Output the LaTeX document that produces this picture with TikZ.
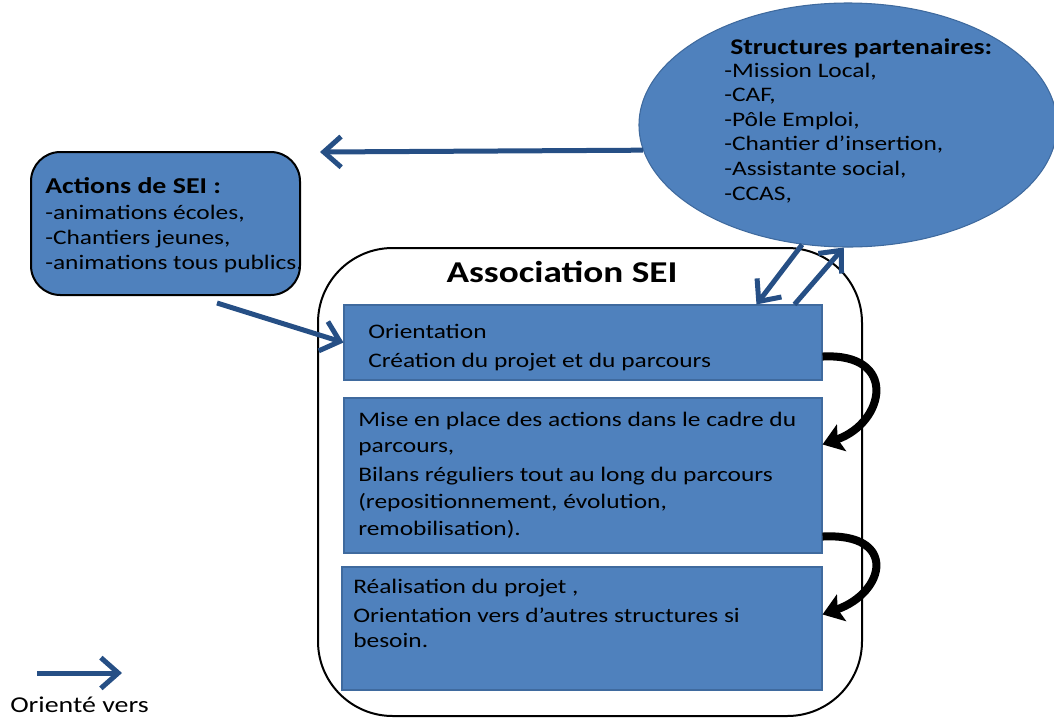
\documentclass[tikz,border=0pt]{standalone}
\usepackage{fontspec}
\setmainfont{Carlito}[FakeStretch=1.23]
\usetikzlibrary{arrows.meta,shapes.geometric,calc}
\definecolor{boxblue}{HTML}{4F81BD}
\definecolor{boxedge}{HTML}{3F6A9E}
\definecolor{arrblue}{HTML}{264F85}
\tikzset{
  bluebox/.style={rectangle,fill=boxblue,draw=boxedge,line width=0.8pt,inner sep=0pt},
  txt/.style={anchor=base west,inner sep=0pt,align=left,text=black},
  bodyfont/.style={font=\fontsize{15.5}{#1}\selectfont},
  blarrow/.style={draw=arrblue,line width=3.75pt,-{Straight Barb[length=13pt,width=23pt]}},
  flowarrow/.style={draw=black,line width=6pt,-{Stealth[length=15pt,width=21pt,inset=3pt]}}
}
\begin{document}
\begin{tikzpicture}[x=0.75pt,y=-0.75pt]
\useasboundingbox (0,0) rectangle (1054,718);

% partner ellipse
\node[ellipse,fill=boxblue,draw=boxedge,line width=0.8pt,inner sep=0pt,
      minimum width=313.5pt,minimum height=183pt] (ell) at (848,125) {};
\node[txt,font=\fontsize{16.8}{18}\selectfont\bfseries] (ellh) at (730,54) {Structures partenaires:};
\node[txt,bodyfont=18.4pt] (ellt) at (724,200) {-Mission Local,\\-CAF,\\-Pôle Emploi,\\-Chantier d’insertion,\\-Assistante social,\\-CCAS,};

% actions box
\node[rectangle,rounded corners=22pt,fill=boxblue,draw=black,line width=1.5pt,inner sep=0pt,
      minimum width=201.75pt,minimum height=107.25pt] (act) at (165.5,223.5) {};
\node[txt,font=\fontsize{17}{18}\selectfont\bfseries] (acth) at (45,193) {Actions de SEI :};
\node[txt,bodyfont=18.75pt] (actt) at (45,269) {-animations écoles,\\-Chantiers jeunes,\\-animations tous publics.};

% association frame
\node[rectangle,rounded corners=56pt,draw=black,line width=1.5pt,inner sep=0pt,
      minimum width=408pt,minimum height=351pt] (assoc) at (590,482) {};
\node[anchor=base,inner sep=0pt,font=\fontsize{22.7}{24}\selectfont\bfseries] (asst) at (562,282) {Association SEI};

% step boxes
\node[bluebox,minimum width=358.5pt,minimum height=56.25pt] (b1) at (583,342.5) {};
\node[bluebox,minimum width=358.5pt,minimum height=116.25pt] (b2) at (583,475.5) {};
\node[bluebox,minimum width=360pt,minimum height=92.25pt] (b3) at (582,628.5) {};

\node[txt,bodyfont=21.75pt] (b1t) at (368,367) {Orientation\\Création du projet et du parcours};
\node[txt,bodyfont=19.9pt] (b2t) at (358,535) {Mise en place des actions dans le cadre du\\parcours,\\[1.9pt]Bilans réguliers tout au long du parcours\\(repositionnement, évolution,\\remobilisation).};
\node[txt,bodyfont=18.75pt] (b3t) at (353,647) {Réalisation du projet ,\\[3pt]Orientation vers d’autres structures si\\besoin.};

% blue connectors
\coordinate (tipL) at (320,152);
\draw[blarrow] (ell.187) -- (tipL);
\draw[blarrow] ($(act.south west)+(187,7)$) -- (b1.west);
\draw[blarrow] (ell.249) -- ($(b1.north west)+(413,0)$);
\draw[blarrow] ($(b1.north west)+(451,0)$) -- (ell.268);

% black flow arrows
\draw[flowarrow] ([yshift=18pt]b1.south east) .. controls +(76,-4) and +(63,-22) .. ([yshift=-35.25pt]b2.north east);
\draw[flowarrow] ([yshift=12.75pt]b2.south east) .. controls +(76,-4) and +(63,-22) .. ([yshift=-36pt]b3.north east);

% legend
\coordinate (lg1) at (37,673);
\coordinate (lg2) at (122,673);
\draw[blarrow] (lg1) -- (lg2);
\node[txt,font=\fontsize{17}{18}\selectfont] (lgt) at (10,712) {Orienté vers};
\end{tikzpicture}
\end{document}
